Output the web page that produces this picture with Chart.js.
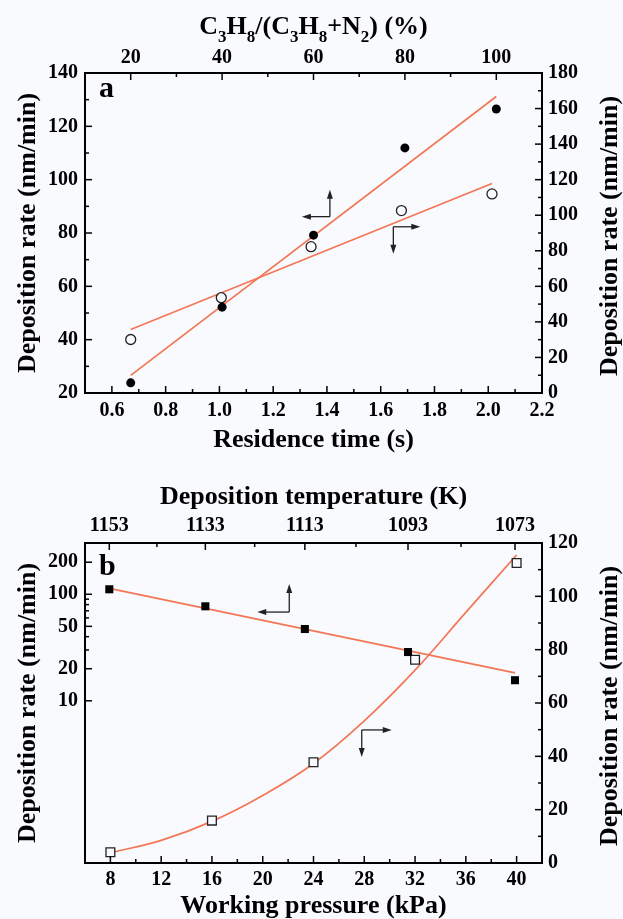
<!DOCTYPE html>
<html>
<head>
<meta charset="utf-8">
<script src="https://cdn.jsdelivr.net/npm/chart.js@4.4.0/dist/chart.umd.min.js"></script>
<style>
  html, body { margin: 0; padding: 0; background: #f9fafd; }
  #wrap { position: relative; width: 623px; height: 919px; overflow: hidden; }
  canvas { position: absolute; left: 0; }
  #chartA { top: 0; }
  #chartB { top: 460px; }
</style>
</head>
<body>
<div id="wrap">
  <canvas id="chartA" width="623" height="460"></canvas>
  <canvas id="chartB" width="623" height="459"></canvas>
</div>
<script>
// ---- panel a data ----
const propanePct = [20, 40, 60, 80, 100];
const rateVsPropane = [23.8, 52.2, 79.2, 111.9, 126.5];
const residenceTime = [0.67, 1.007, 1.341, 1.677, 2.014];
const rateVsTime = [30.1, 53.6, 82.3, 102.6, 112];
const fitPropaneX = [20, 100];
const fitPropaneY = [26.6, 131.2];
const fitTimeX = [0.67, 2.014];
const fitTimeY = [35.7, 117.8];

// ---- panel b data ----
const depTempK = [1153, 1133, 1113, 1093, 1073];
const rateVsTemp = [111.4, 77.1, 47.2, 28.7, 15.6];
const fitTempX = [1153, 1073];
const fitTempY = [113.8, 18.3];
const pressureKPa = [8, 16, 24, 32, 40];
const rateVsPressure = [4.0, 15.9, 37.8, 76.2, 112.5];
const curvePressure = [8, 12, 16, 20, 24, 28, 32, 36, 40];
const curveRate = [3.8, 8.5, 15.6, 25.3, 37.3, 53.3, 72.3, 94.0, 115.5];

// ---- tick values ----
const timeTicks = [0.6, 0.8, 1.0, 1.2, 1.4, 1.6, 1.8, 2.0, 2.2];
const timeMinor = [0.7, 0.9, 1.1, 1.3, 1.5, 1.7, 1.9, 2.1];
const pctTicks = [20, 40, 60, 80, 100];
const pctMinor = [30, 50, 70, 90];
const rateATicks = [20, 40, 60, 80, 100, 120, 140];
const rateAMinor = [30, 50, 70, 90, 110, 130];
const rateA2Ticks = [0, 20, 40, 60, 80, 100, 120, 140, 160, 180];
const rateA2Minor = [10, 30, 50, 70, 90, 110, 130, 150, 170];
const pressureTicks = [8, 12, 16, 20, 24, 28, 32, 36, 40];
const pressureMinor = [10, 14, 18, 22, 26, 30, 34, 38];
const tempTicks = [1153, 1133, 1113, 1093, 1073];
const tempMinor = [1143, 1123, 1103, 1083];
const logTicks = [10, 20, 50, 100, 200];
const logMinor = [30, 40, 60, 70, 80, 90];
const rateB2Ticks = [0, 20, 40, 60, 80, 100, 120];
const rateB2Minor = [10, 30, 50, 70, 90, 110];

const serif = 'Liberation Serif';
const ink = '#000';
const fitColor = '#f37656';
const paper = '#f9fafd';

const invT = T => 1000 / T;
const pts = (xs, ys) => xs.map((x, i) => ({ x: x, y: ys[i] }));
const tickFont = () => ({ family: serif, size: 20, weight: 'bold' });
const titleFont = () => ({ family: serif, size: 26, weight: 'bold', lineHeight: 1 });

function fixedTicks(values) {
  return scale => { scale.ticks = values.map(v => ({ value: v })); };
}

function axis(pos, min, max, ticks, size, pad, fmt, extra) {
  const horiz = pos === 'top' || pos === 'bottom';
  return Object.assign({
    type: 'linear', position: pos, min: min, max: max,
    afterBuildTicks: fixedTicks(ticks),
    afterFit: s => { if (horiz) s.height = size; else s.width = size; },
    grid: { display: false, drawTicks: false },
    border: { display: true, color: ink, width: 2 },
    ticks: { font: tickFont(), color: ink, padding: pad, maxRotation: 0, autoSkip: false,
             callback: fmt || (v => String(v)) },
    title: { display: false }
  }, extra || {});
}

// draws inward ticks, arrows, panel letter and the titles chart.js can't do
function decor(spec) {
  return {
    id: 'decor',
    afterDraw(chart) {
      const ctx = chart.ctx;
      const area = chart.chartArea;
      ctx.save();
      ctx.strokeStyle = ink;
      ctx.fillStyle = ink;
      ctx.lineWidth = 1.5;
      Object.keys(spec.ticks).forEach(id => {
        const scale = chart.scales[id];
        const t = spec.ticks[id];
        const mark = (v, len) => {
          const p = scale.getPixelForValue(v);
          ctx.beginPath();
          if (scale.position === 'bottom') { ctx.moveTo(p, area.bottom); ctx.lineTo(p, area.bottom - len); }
          if (scale.position === 'top') { ctx.moveTo(p, area.top); ctx.lineTo(p, area.top + len); }
          if (scale.position === 'left') { ctx.moveTo(area.left, p); ctx.lineTo(area.left + len, p); }
          if (scale.position === 'right') { ctx.moveTo(area.right, p); ctx.lineTo(area.right - len, p); }
          ctx.stroke();
        };
        t.major.forEach(v => mark(v, 7));
        t.minor.forEach(v => mark(v, 4));
      });

      // arrows
      ctx.lineWidth = 1.3;
      ctx.strokeStyle = '#222';
      ctx.fillStyle = '#222';
      spec.arrows.forEach(a => {
        const cx = chart.scales[a.xAxis].getPixelForValue(a.x);
        const cy = chart.scales[a.yAxis].getPixelForValue(a.y);
        a.legs.forEach(leg => {
          const dx = leg[0], dy = leg[1];
          const ex = cx + dx, ey = cy + dy;
          const ang = Math.atan2(dy, dx);
          const c = Math.cos(ang), s = Math.sin(ang);
          ctx.beginPath();
          ctx.moveTo(cx, cy);
          ctx.lineTo(ex - 6 * c, ey - 6 * s);
          ctx.stroke();
          ctx.beginPath();
          ctx.moveTo(ex, ey);
          ctx.lineTo(ex - 9 * c + 3 * s, ey - 9 * s - 3 * c);
          ctx.lineTo(ex - 9 * c - 3 * s, ey - 9 * s + 3 * c);
          ctx.closePath();
          ctx.fill();
        });
      });

      // panel letter
      ctx.fillStyle = ink;
      ctx.font = 'bold 30px "' + serif + '"';
      ctx.textAlign = 'left';
      ctx.textBaseline = 'alphabetic';
      ctx.fillText(spec.letter, area.left + 14, area.top + spec.letterDy);

      // right axis title, reading bottom to top like the left one
      ctx.font = 'bold 26px "' + serif + '"';
      ctx.textAlign = 'center';
      ctx.textBaseline = 'middle';
      ctx.save();
      ctx.translate(spec.rightTitleX, (area.top + area.bottom) / 2 + 3);
      ctx.rotate(-Math.PI / 2);
      ctx.fillText('Deposition rate (nm/min)', 0, 0);
      ctx.restore();

      // top title with subscripts
      if (spec.subTitle) {
        const segs = spec.subTitle;
        const big = 'bold 26px "' + serif + '"';
        const small = 'bold 17px "' + serif + '"';
        let w = 0;
        segs.forEach(sg => { ctx.font = sg[1] ? small : big; w += ctx.measureText(sg[0]).width; });
        let x = (area.left + area.right) / 2 - w / 2;
        ctx.textAlign = 'left';
        ctx.textBaseline = 'alphabetic';
        segs.forEach(sg => {
          ctx.font = sg[1] ? small : big;
          ctx.fillText(sg[0], x, spec.subTitleY + (sg[1] ? 8 : 0));
          x += ctx.measureText(sg[0]).width;
        });
      }
      ctx.restore();
    }
  };
}

Chart.defaults.font.family = serif;
Chart.defaults.color = ink;

new Chart(document.getElementById('chartA'), {
  type: 'scatter',
  data: {
    datasets: [
      { data: pts(propanePct, rateVsPropane), xAxisID: 'x2', yAxisID: 'y',
        pointStyle: 'circle', pointRadius: 4.5, pointBackgroundColor: ink, pointBorderWidth: 0, order: 0 },
      { data: pts(residenceTime, rateVsTime), xAxisID: 'x', yAxisID: 'y2',
        pointStyle: 'circle', pointRadius: 5, pointBackgroundColor: paper, pointBorderColor: '#222', pointBorderWidth: 1.3, order: 0 },
      { data: pts(fitPropaneX, fitPropaneY), xAxisID: 'x2', yAxisID: 'y',
        showLine: true, borderColor: fitColor, borderWidth: 1.7, pointRadius: 0, order: 1 },
      { data: pts(fitTimeX, fitTimeY), xAxisID: 'x', yAxisID: 'y2',
        showLine: true, borderColor: fitColor, borderWidth: 1.7, pointRadius: 0, order: 1 }
    ]
  },
  options: {
    responsive: false,
    animation: false,
    devicePixelRatio: 1,
    layout: { padding: 0 },
    plugins: { legend: { display: false }, tooltip: { enabled: false } },
    scales: {
      x: axis('bottom', 0.5, 2.2, timeTicks, 67, 6, v => v.toFixed(1), {
        title: { display: true, text: 'Residence time (s)', font: titleFont(), color: ink, padding: { top: 0, bottom: 7 } }
      }),
      x2: axis('top', 10, 110, pctTicks, 73, 3),
      y: axis('left', 20, 140, rateATicks, 85, 7, null, {
        title: { display: true, text: 'Deposition rate (nm/min)', font: titleFont(), color: ink, padding: { top: 15, bottom: 0 } }
      }),
      y2: axis('right', 0, 180, rateA2Ticks, 81, 6)
    }
  },
  plugins: [decor({
    ticks: {
      x: { major: timeTicks, minor: timeMinor },
      x2: { major: pctTicks, minor: pctMinor },
      y: { major: rateATicks, minor: rateAMinor },
      y2: { major: rateA2Ticks, minor: rateA2Minor }
    },
    arrows: [
      { xAxis: 'x', yAxis: 'y2', x: 1.411, y: 99.2, legs: [[0, -27], [-28, 0]] },
      { xAxis: 'x', yAxis: 'y2', x: 1.647, y: 93.5, legs: [[27, 0], [0, 27]] }
    ],
    letter: 'a', letterDy: 24,
    rightTitleX: 610,
    subTitle: [['C', 0], ['3', 1], ['H', 0], ['8', 1], ['/(C', 0], ['3', 1], ['H', 0], ['8', 1], ['+N', 0], ['2', 1], [') (%)', 0]],
    subTitleY: 34
  })]
});

new Chart(document.getElementById('chartB'), {
  type: 'scatter',
  data: {
    datasets: [
      { data: pts(depTempK.map(invT), rateVsTemp), xAxisID: 'x2', yAxisID: 'y',
        pointStyle: 'rect', pointRadius: 5.7, pointBackgroundColor: ink, pointBorderWidth: 0, order: 0 },
      { data: pts(pressureKPa, rateVsPressure), xAxisID: 'x', yAxisID: 'y2',
        pointStyle: 'rect', pointRadius: 6.2, pointBackgroundColor: paper, pointBorderColor: '#222', pointBorderWidth: 1.3, order: 0 },
      { data: pts(fitTempX.map(invT), fitTempY), xAxisID: 'x2', yAxisID: 'y',
        showLine: true, borderColor: fitColor, borderWidth: 1.7, pointRadius: 0, order: 1 },
      { data: pts(curvePressure, curveRate), xAxisID: 'x', yAxisID: 'y2',
        showLine: true, borderColor: fitColor, borderWidth: 1.7, pointRadius: 0, tension: 0.4, order: 1 }
    ]
  },
  options: {
    responsive: false,
    animation: false,
    devicePixelRatio: 1,
    layout: { padding: 0 },
    plugins: { legend: { display: false }, tooltip: { enabled: false } },
    scales: {
      x: axis('bottom', 6, 42, pressureTicks, 56, 5, null, {
        title: { display: true, text: 'Working pressure (kPa)', font: titleFont(), color: ink, padding: { top: 0, bottom: 0 } }
      }),
      x2: axis('top', 0.86343, 0.93627, tempTicks.map(invT), 83, 5, v => String(Math.round(1000 / v)), {
        title: { display: true, text: 'Deposition temperature (K)', font: titleFont(), color: ink, padding: { top: 24, bottom: 0 } }
      }),
      y: axis('left', 0.3, 303, logTicks, 85, 7, null, {
        type: 'logarithmic',
        title: { display: true, text: 'Deposition rate (nm/min)', font: titleFont(), color: ink, padding: { top: 15, bottom: 0 } }
      }),
      y2: axis('right', 0, 120, rateB2Ticks, 81, 6)
    }
  },
  plugins: [decor({
    ticks: {
      x: { major: pressureTicks, minor: pressureMinor },
      x2: { major: tempTicks.map(invT), minor: tempMinor.map(invT) },
      y: { major: logTicks, minor: logMinor },
      y2: { major: rateB2Ticks, minor: rateB2Minor }
    },
    arrows: [
      { xAxis: 'x', yAxis: 'y2', x: 22.09, y: 94.1, legs: [[0, -28], [-32, 0]] },
      { xAxis: 'x', yAxis: 'y2', x: 27.8, y: 49.9, legs: [[30, 0], [0, 27]] }
    ],
    letter: 'b', letterDy: 32,
    rightTitleX: 610,
    subTitle: null
  })]
});
</script>
</body>
</html>
